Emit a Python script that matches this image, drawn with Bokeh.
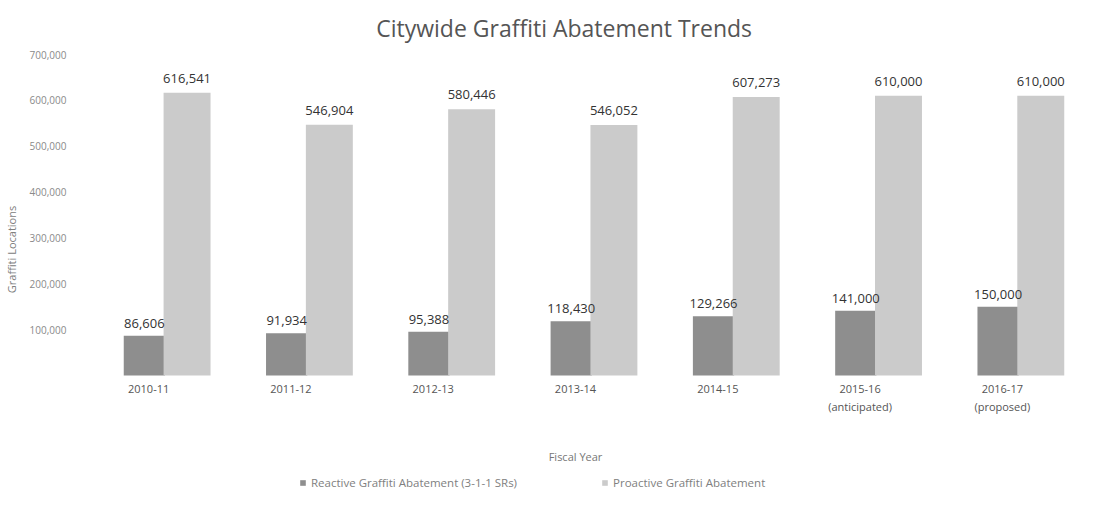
from bokeh.plotting import figure
from bokeh.models import ColumnDataSource, FixedTicker, NumeralTickFormatter, Legend, LegendItem, Range1d, FactorRange, Label
from bokeh.transform import dodge
from bokeh.core.properties import value
from bokeh.embed import file_html
from bokeh.resources import INLINE

years = ["2010-11", "2011-12", "2012-13", "2013-14", "2014-15", "2015-16\n(anticipated)", "2016-17\n(proposed)"]
reactive = [86606, 91934, 95388, 118430, 129266, 141000, 150000]
proactive = [616541, 546904, 580446, 546052, 607273, 610000, 610000]
y_ticks = [100000, 200000, 300000, 400000, 500000, 600000, 700000]
title_text = "Citywide Graffiti Abatement Trends"

src = ColumnDataSource(dict(
    fy=years, reactive=reactive, proactive=proactive,
    rlab=[f"{v:,}" for v in reactive], plab=[f"{v:,}" for v in proactive],
))

FONT = "Open Sans"
# frame spans the whole height so that title, axis texts and legend sit inside it
UNITS_PER_PX = 700000 / 321
Y_END = 700000 + 54 * UNITS_PER_PX
Y_START = -123 * UNITS_PER_PX

p = figure(x_range=FactorRange(*years), y_range=Range1d(Y_START, Y_END),
           frame_width=996, frame_height=498, output_backend="svg", toolbar_location=None,
           min_border_left=67, min_border_right=21, min_border_top=0, min_border_bottom=0)
p.outline_line_color = None
p.xgrid.grid_line_color = None
p.ygrid.grid_line_color = None

p.add_layout(Label(x=3.42, y=700000 + 27 * UNITS_PER_PX, text=title_text,
                   text_align="center", text_baseline="middle", text_font=FONT,
                   text_font_size="23px", text_color="#555555"))

dark = "#8e8e8e"
light = "#cbcbcb"
r1 = p.vbar(x=dodge("fy", -0.03, range=p.x_range), top="reactive", width=0.29, source=src,
            fill_color=dark, line_color=None)
r2 = p.vbar(x=dodge("fy", 0.27, range=p.x_range), top="proactive", width=0.33, source=src,
            fill_color=light, line_color=None)

p.text(x=dodge("fy", -0.03, range=p.x_range), y="reactive", text="rlab", source=src,
       text_align="center", text_baseline="bottom", y_offset=-8,
       text_font=value(FONT), text_font_size="13px", text_color="#333333")
p.text(x=dodge("fy", 0.27, range=p.x_range), y="proactive", text="plab", source=src,
       text_align="center", text_baseline="bottom", y_offset=-10,
       text_font=value(FONT), text_font_size="13px", text_color="#333333")

p.yaxis.ticker = FixedTicker(ticks=y_ticks)
p.yaxis.formatter = NumeralTickFormatter(format="0,0")
p.yaxis.axis_line_color = None
p.yaxis.major_tick_line_color = None
p.yaxis.minor_tick_line_color = None
p.yaxis.major_label_text_font = FONT
p.yaxis.major_label_text_font_size = "10px"
p.yaxis.major_label_text_color = "#8a8a8a"
p.yaxis.axis_label = "Graffiti Locations"
p.yaxis.axis_label_text_font = FONT
p.yaxis.axis_label_text_font_style = "normal"
p.yaxis.axis_label_text_font_size = "11px"
p.yaxis.axis_label_text_color = "#808080"
p.yaxis.axis_label_standoff = 8

p.xaxis.fixed_location = 0
p.xaxis.axis_line_color = None
p.xaxis.major_tick_line_color = None
p.xaxis.minor_tick_line_color = None
p.xaxis.major_tick_out = 0
p.xaxis.major_tick_in = 0
p.xaxis.major_label_text_font = FONT
p.xaxis.major_label_text_font_size = "11px"
p.xaxis.major_label_text_color = "#555555"
p.xaxis.major_label_standoff = 5
p.xaxis.axis_label = "Fiscal Year"
p.xaxis.axis_label_text_font = FONT
p.xaxis.axis_label_text_font_style = "normal"
p.xaxis.axis_label_text_font_size = "11px"
p.xaxis.axis_label_text_color = "#777777"
p.xaxis.axis_label_standoff = 32

legend = Legend(items=[LegendItem(label="Reactive Graffiti Abatement (3-1-1 SRs)", renderers=[r1]),
                       LegendItem(label="Proactive Graffiti Abatement", renderers=[r2])],
                orientation="horizontal", location=(222, 8),
                label_text_font=FONT, label_text_font_size="11.5px", label_text_color="#808080",
                glyph_width=7, glyph_height=7, spacing=84, border_line_color=None,
                background_fill_alpha=0, padding=0, margin=0, label_height=12)
p.add_layout(legend, "center")

open("out.html", "w").write(file_html(p, INLINE))
